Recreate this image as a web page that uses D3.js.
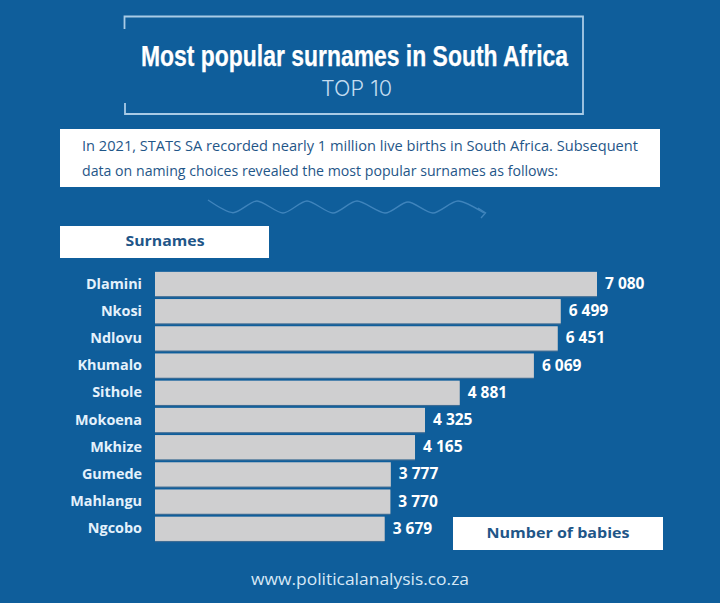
<!DOCTYPE html>
<html><head><meta charset="utf-8">
<script src="https://cdn.jsdelivr.net/npm/d3@7"></script>
<style>html,body{margin:0;padding:0;background:#0f5e9b;overflow:hidden}svg{display:block}</style>
</head><body><svg id="c" width="720" height="603"></svg>
<script>
const surnames = ["Dlamini","Nkosi","Ndlovu","Khumalo","Sithole","Mokoena","Mkhize","Gumede","Mahlangu","Ngcobo"];
const babies = [7080,6499,6451,6069,4881,4325,4165,3777,3770,3679];
const titleText = "Most popular surnames in South Africa";
const subtitleText = "TOP 10";
const introLines = ["In 2021, STATS SA recorded nearly 1 million live births in South Africa. Subsequent","data on naming choices revealed the most popular surnames as follows:"];
const footerText = "www.politicalanalysis.co.za";

const BG="#0f5e9b", INK="#1f5688", BAR="#cfcfd0", FONT="'Open Sans','Noto Sans',sans-serif";
const svg=d3.select("#c");
svg.append("rect").attr("width",720).attr("height",603).attr("fill",BG);

// title frame
svg.append("path").attr("fill","none").attr("stroke","#a9cbe6").attr("stroke-width",1.8)
 .attr("d","M124.5,29V16.5H583V114H125V103");
svg.append("text").text(titleText).attr("x",354.5).attr("y",66).attr("text-anchor","middle")
 .attr("font-family","'Liberation Sans Narrow','Liberation Sans',sans-serif").attr("font-weight",700)
 .attr("font-size",30).attr("fill","#fff").attr("stroke","#fff").attr("stroke-width",0.25)
 .attr("textLength",427).attr("lengthAdjust","spacingAndGlyphs");
svg.append("text").text(subtitleText).attr("x",356.5).attr("y",96).attr("text-anchor","middle")
 .attr("font-family","Inter,"+FONT).attr("font-weight",300).attr("font-size",21).attr("fill","#c3dcf0")
 .attr("textLength",71).attr("lengthAdjust","spacingAndGlyphs");

// intro box
svg.append("rect").attr("x",60).attr("y",129).attr("width",600).attr("height",58).attr("fill","#fff");
svg.selectAll("text.intro").data(introLines).join("text").attr("class","intro").text(d=>d)
 .attr("x",82).attr("y",(d,i)=>151+i*24.5).attr("font-family",FONT).attr("font-size",14)
 .attr("fill",INK).attr("textLength",(d,i)=>[556,476][i]).attr("lengthAdjust","spacingAndGlyphs");

// wavy arrow
const wave=[[208,200],[233,212.7],[257,201],[283,213],[307,201],[333,213],[357,201],[385,213],[408,202],[433,213],[458,201],[484,213]];
svg.append("path").attr("fill","none").attr("stroke","#3f84bc").attr("stroke-width",1.4)
 .attr("d",d3.line().curve(d3.curveCardinal.tension(0.2))(wave));
svg.append("path").attr("fill","none").attr("stroke","#3f84bc").attr("stroke-width",1.4)
 .attr("d","M478,208L485.5,213L481,218");

// axis labels
svg.append("rect").attr("x",60).attr("y",226).attr("width",209).attr("height",32).attr("fill","#fff");
svg.append("text").text("Surnames").attr("x",165).attr("y",246).attr("text-anchor","middle")
 .attr("font-family",FONT).attr("font-weight",700).attr("font-size",14.5).attr("fill",INK)
 .attr("textLength",79).attr("lengthAdjust","spacingAndGlyphs");
svg.append("rect").attr("x",453).attr("y",517).attr("width",210).attr("height",33).attr("fill","#fff");
svg.append("text").text("Number of babies").attr("x",558).attr("y",538).attr("text-anchor","middle")
 .attr("font-family",FONT).attr("font-weight",700).attr("font-size",15).attr("fill",INK)
 .attr("textLength",143).attr("lengthAdjust","spacingAndGlyphs");

// bars
const x=d3.scaleLinear().domain([0,7080]).range([155,597]);
const y=d3.scaleBand().domain(surnames).range([270.4,542.4]).paddingInner(0.107).paddingOuter(0.053);
const bars=svg.append("g");
bars.selectAll("rect.sh").data(babies).join("rect").attr("class","sh")
 .attr("x",x(0)).attr("y",(d,i)=>y(surnames[i])+1.2).attr("width",d=>x(d)-x(0)).attr("height",y.bandwidth()).attr("fill","#3d6c94");
bars.selectAll("rect.b").data(babies).join("rect").attr("class","b")
 .attr("x",x(0)).attr("y",(d,i)=>y(surnames[i])).attr("width",d=>x(d)-x(0)).attr("height",y.bandwidth()).attr("fill",BAR);
const yAxis=svg.append("g").attr("transform","translate(142,0)").call(d3.axisLeft(y).tickSize(0).tickPadding(0));
yAxis.select(".domain").remove();
yAxis.selectAll("text").attr("font-family",FONT).attr("font-weight",700).attr("font-size",14.4).attr("fill","#e4f1fb");
const fmt=d=>d3.format(",")(d).replace(",", " ");
svg.append("g").selectAll("text").data(babies).join("text").text(fmt)
 .attr("x",d=>x(d)+8).attr("y",(d,i)=>y(surnames[i])+y.bandwidth()/2-0.5).attr("dy","0.35em")
 .attr("font-family",FONT).attr("font-weight",700).attr("font-size",15.5).attr("fill","#fff");

svg.append("text").text(footerText).attr("x",360).attr("y",585).attr("text-anchor","middle")
 .attr("font-family",FONT).attr("font-size",16).attr("fill","#d6e8f6")
 .attr("textLength",218).attr("lengthAdjust","spacingAndGlyphs");
</script></body></html>
